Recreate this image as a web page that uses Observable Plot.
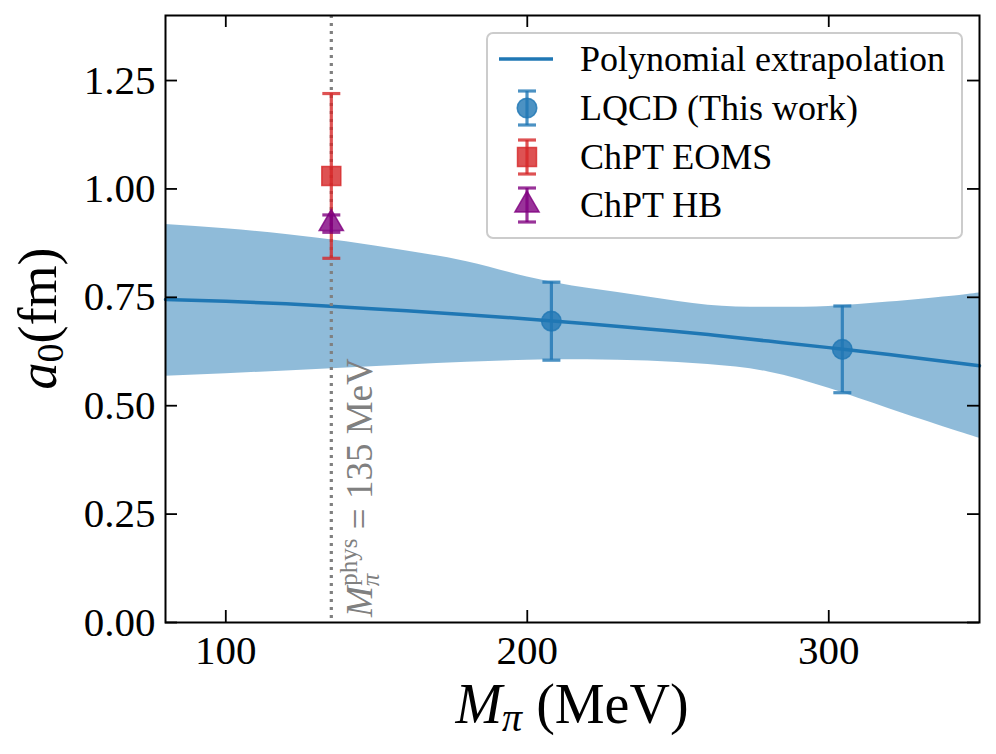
<!DOCTYPE html>
<html><head><meta charset="utf-8">
<script src="https://cdn.jsdelivr.net/npm/d3@7"></script>
<script src="https://cdn.jsdelivr.net/npm/@observablehq/plot@0.6"></script>
<style>
html,body{margin:0;padding:0;background:#fff;}
#chart svg{display:block;}
</style>
</head><body><div id="chart"></div>
<script>
// ---- data ----
const bandX    = [80, 100, 120, 140, 160, 180, 200, 220, 240, 260, 280, 300, 320, 340, 350];
const bandLow  = [0.568, 0.574, 0.580, 0.587, 0.594, 0.600, 0.605, 0.606, 0.603, 0.595, 0.578, 0.540, 0.493, 0.447, 0.425];
const bandHigh = [0.918, 0.908, 0.895, 0.878, 0.857, 0.832, 0.797, 0.771, 0.751, 0.732, 0.727, 0.729, 0.739, 0.752, 0.760];
const fitMid   = [0.745, 0.741, 0.735, 0.727, 0.719, 0.710, 0.700, 0.689, 0.677, 0.664, 0.649, 0.634, 0.618, 0.601, 0.592];

const lqcdX = [208, 304.5];
const lqcdY = [0.695, 0.630];
const lqcdErr = [0.090, 0.100];

const eomsX = [135];
const eomsY = [1.03];
const eomsErr = [0.19];

const hbX = [135];
const hbY = [0.92];
const hbErr = [0.02];

const physMass = 135;
const xDomain = [80, 350];
const yDomain = [0, 1.4];
const xTicks = [100, 200, 300];
const yTicks = [0, 0.25, 0.5, 0.75, 1.0, 1.25];

const legendLabels = ["Polynomial extrapolation", "LQCD (This work)", "ChPT EOMS", "ChPT HB"];

// ---- build ----
const W = 996, H = 754, mL = 165, mR = 17, mT = 15, mB = 132;
const innerW = W - mL - mR, innerH = H - mT - mB;
const BLUE = "#1f77b4", RED = "#d62728", PURPLE = "#800080", OP = 0.8;
const FONT = "'Liberation Serif', 'DejaVu Serif', serif";

const band = bandX.map((x, i) => ({x, lo: bandLow[i], hi: bandHigh[i], mid: fitMid[i]}));
const pts = (xs, ys, es) => xs.map((x, i) => ({x, y: ys[i], lo: ys[i] - es[i], hi: ys[i] + es[i]}));
const lqcd = pts(lqcdX, lqcdY, lqcdErr);
const eoms = pts(eomsX, eomsY, eomsErr);
const hb = pts(hbX, hbY, hbErr);

const capSymbol = {draw(ctx, size) { const w = Math.sqrt(size / Math.PI); ctx.moveTo(-w, 0); ctx.lineTo(w, 0); }};

function errorbar(data, color, symbol, r) {
  return [
    Plot.ruleX(data, {x: "x", y1: "lo", y2: "hi", stroke: color, strokeWidth: 3.2, strokeOpacity: OP}),
    Plot.dot(data, {x: "x", y: "hi", symbol: capSymbol, r: 9, stroke: color, strokeWidth: 3.2, strokeOpacity: OP, fill: "none"}),
    Plot.dot(data, {x: "x", y: "lo", symbol: capSymbol, r: 9, stroke: color, strokeWidth: 3.2, strokeOpacity: OP, fill: "none"}),
    Plot.dot(data, {x: "x", y: "y", symbol, r, fill: color, fillOpacity: OP, stroke: color, strokeOpacity: OP, strokeWidth: 1.5})
  ];
}

const plot = Plot.plot({
  width: W, height: H,
  marginLeft: mL, marginRight: mR, marginTop: mT, marginBottom: mB,
  style: {fontFamily: FONT, fontSize: "41px", color: "#000", background: "#fff", overflow: "visible"},
  x: {domain: xDomain},
  y: {domain: yDomain},
  marks: [
    Plot.areaY(band, {x: "x", y1: "lo", y2: "hi", fill: BLUE, fillOpacity: 0.5, curve: "natural"}),
    Plot.lineY(band, {x: "x", y: "mid", stroke: BLUE, strokeWidth: 3.5, curve: "natural"}),
    Plot.ruleX([physMass], {stroke: "#808080", strokeWidth: 3.2, strokeDasharray: "3,5"}),
    ...errorbar(lqcd, BLUE, "circle", 9.8),
    ...errorbar(eoms, RED, "square", 10.7),
    ...errorbar(hb, PURPLE, "triangle", 9),
    // inward ticks on all four sides
    Plot.tickX(xTicks, {insetTop: innerH - 12, stroke: "#000", strokeWidth: 1.8}),
    Plot.tickX(xTicks, {insetBottom: innerH - 12, stroke: "#000", strokeWidth: 1.8}),
    Plot.tickY(yTicks, {insetRight: innerW - 12, stroke: "#000", strokeWidth: 1.8}),
    Plot.tickY(yTicks, {insetLeft: innerW - 12, stroke: "#000", strokeWidth: 1.8}),
    Plot.axisX({ticks: xTicks, tickSize: 0, tickPadding: 12, label: null, fontSize: 41, tickFormat: d3.format("d")}),
    Plot.axisY({ticks: yTicks, tickSize: 0, tickPadding: 10, label: null, fontSize: 41, tickFormat: d3.format(".2f")}),
    Plot.frame({stroke: "#000", strokeWidth: 2})
  ]
});
document.getElementById("chart").appendChild(plot);

const xs = plot.scale("x"), ys = plot.scale("y");
const X = xs && xs.apply ? (v) => xs.apply(v) : d3.scaleLinear().domain(xDomain).range([mL, W - mR]);
const Y = ys && ys.apply ? (v) => ys.apply(v) : d3.scaleLinear().domain(yDomain).range([H - mB, mT]);

const svg = d3.select(plot);

// physical mass annotation
const ann = svg.append("text")
  .attr("transform", `translate(${X(physMass) + 41},${Y(0) - 5}) rotate(-90)`)
  .attr("fill", "#808080").attr("font-family", FONT).attr("font-size", 37).attr("text-anchor", "start");
ann.append("tspan").attr("font-style", "italic").text("M");
ann.append("tspan").attr("font-style", "italic").attr("font-size", 25).attr("dy", 7).text("π");
ann.append("tspan").attr("font-size", 25).attr("dx", -12).attr("dy", -22).text("phys");
ann.append("tspan").attr("dy", 15).text(" = 135 MeV");

// x label
const xl = svg.append("text")
  .attr("x", (mL + W - mR) / 2).attr("y", 723).attr("text-anchor", "middle")
  .attr("font-family", FONT).attr("font-size", 56).attr("fill", "#000");
xl.append("tspan").attr("font-style", "italic").text("M");
xl.append("tspan").attr("font-style", "italic").attr("font-size", 40).attr("dy", 8).text("π");
xl.append("tspan").attr("dy", -8).text(" (MeV)");

// y label
const yl = svg.append("text")
  .attr("transform", `translate(56,${(mT + H - mB) / 2}) rotate(-90)`).attr("text-anchor", "middle")
  .attr("font-family", FONT).attr("font-size", 54).attr("fill", "#000");
yl.append("tspan").attr("font-style", "italic").text("a");
yl.append("tspan").attr("font-size", 38).attr("dy", 7).text("0");
yl.append("tspan").attr("dy", -7).text("(fm)");

// legend
const lg = svg.append("g").attr("font-family", FONT).attr("font-size", 36).attr("text-anchor", "start");
lg.append("rect").attr("x", 487).attr("y", 33).attr("width", 475).attr("height", 205).attr("rx", 6)
  .attr("fill", "#fff").attr("fill-opacity", 0.8).attr("stroke", "#cccccc").attr("stroke-width", 2);
const rowY = [59, 108, 157, 205];
const symX = 527;
lg.append("line").attr("x1", 499).attr("x2", 553).attr("y1", rowY[0]).attr("y2", rowY[0])
  .attr("stroke", BLUE).attr("stroke-width", 3.5);
const legendSym = [[BLUE, d3.symbolCircle, 9.8], [RED, d3.symbolSquare, 10.7], [PURPLE, d3.symbolTriangle, 9]];
legendSym.forEach(([c, s, r], i) => {
  const cy = rowY[i + 1];
  const g = lg.append("g").attr("stroke", c).attr("stroke-opacity", OP);
  g.append("line").attr("x1", symX).attr("x2", symX).attr("y1", cy - 17).attr("y2", cy + 17).attr("stroke-width", 3.2);
  g.append("line").attr("x1", symX - 9).attr("x2", symX + 9).attr("y1", cy - 17).attr("y2", cy - 17).attr("stroke-width", 3.2);
  g.append("line").attr("x1", symX - 9).attr("x2", symX + 9).attr("y1", cy + 17).attr("y2", cy + 17).attr("stroke-width", 3.2);
  g.append("path").attr("d", d3.symbol(s, Math.PI * r * r)()).attr("transform", `translate(${symX},${cy})`)
    .attr("fill", c).attr("fill-opacity", OP).attr("stroke-width", 1.5);
});
legendLabels.forEach((t, i) => {
  lg.append("text").attr("x", 580).attr("y", rowY[i] + 12).attr("fill", "#000").text(t);
});
</script>
</body></html>
